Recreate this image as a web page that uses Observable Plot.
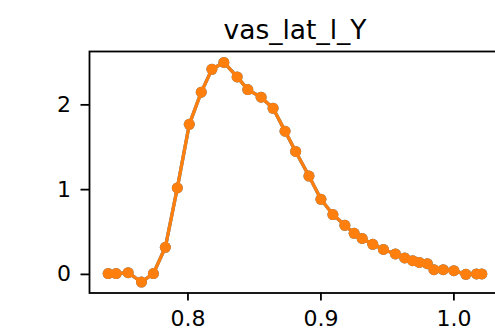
<!DOCTYPE html>
<html>
<head>
<meta charset="utf-8">
<script src="https://cdn.jsdelivr.net/npm/d3@7"></script>
<script src="https://cdn.jsdelivr.net/npm/@observablehq/plot@0.6"></script>
<style>
  html, body { margin: 0; padding: 0; background: white; overflow: hidden; }
  #chart svg { overflow: hidden; }
</style>
</head>
<body>
<div id="chart"></div>
<script>
const title = "vas_lat_l_Y";
const xValues = [0.740, 0.746, 0.755, 0.765, 0.774, 0.783, 0.792, 0.801, 0.810, 0.818,
  0.827, 0.837, 0.845, 0.855, 0.864, 0.873, 0.881, 0.891, 0.900, 0.909,
  0.918, 0.925, 0.931, 0.939, 0.947, 0.956, 0.963, 0.969, 0.974, 0.980,
  0.985, 0.992, 1.000, 1.009, 1.017, 1.021];
const yValues = [0.01, 0.01, 0.02, -0.09, 0.01, 0.32, 1.02, 1.77, 2.15, 2.42,
  2.50, 2.33, 2.18, 2.09, 1.96, 1.69, 1.45, 1.16, 0.886, 0.706,
  0.579, 0.485, 0.424, 0.355, 0.294, 0.241, 0.194, 0.162, 0.141, 0.126,
  0.056, 0.055, 0.044, 0.001, 0.006, 0.006];
const xTicks = [0.8, 0.9, 1.0];
const yTicks = [0, 1, 2];

const data = xValues.map((x, i) => ({x, y: yValues[i]}));

const xmin = d3.min(xValues), xmax = d3.max(xValues);
const ymin = d3.min(yValues), ymax = d3.max(yValues);
const xpad = (xmax - xmin) * 0.05, ypad = (ymax - ymin) * 0.05;

const chart = Plot.plot({
  width: 495,
  height: 335,
  marginLeft: 89,
  marginRight: -5,
  marginTop: 51,
  marginBottom: 42.5,
  style: {fontFamily: "DejaVu Sans", background: "white", color: "black"},
  x: {domain: [xmin - xpad, xmax + xpad]},
  y: {domain: [ymin - ypad, ymax + ypad]},
  marks: [
    Plot.line(data, {x: "x", y: "y", stroke: "#1f77b4", strokeWidth: 3.3}),
    Plot.dot(data, {x: "x", y: "y", fill: "#1f77b4", r: 5.5}),
    Plot.line(data, {x: "x", y: "y", stroke: "#ff7f0e", strokeWidth: 3.3}),
    Plot.dot(data, {x: "x", y: "y", fill: "#ff7f0e", r: 5.5}),
    Plot.frame({stroke: "black", strokeWidth: 1.8}),
    Plot.axisX({ticks: xTicks, tickFormat: d3.format(".1f"), tickSize: 8, tickPadding: 9, strokeWidth: 1.8, fontSize: 22, label: null}),
    Plot.axisY({ticks: yTicks, tickFormat: d3.format("d"), tickSize: 8.5, tickPadding: 10, strokeWidth: 1.8, fontSize: 22, label: null}),
    Plot.text([title], {frameAnchor: "top", lineAnchor: "bottom", dy: -13, fontSize: 26.5, fill: "black"})
  ]
});
document.getElementById("chart").appendChild(chart);
</script>
</body>
</html>
